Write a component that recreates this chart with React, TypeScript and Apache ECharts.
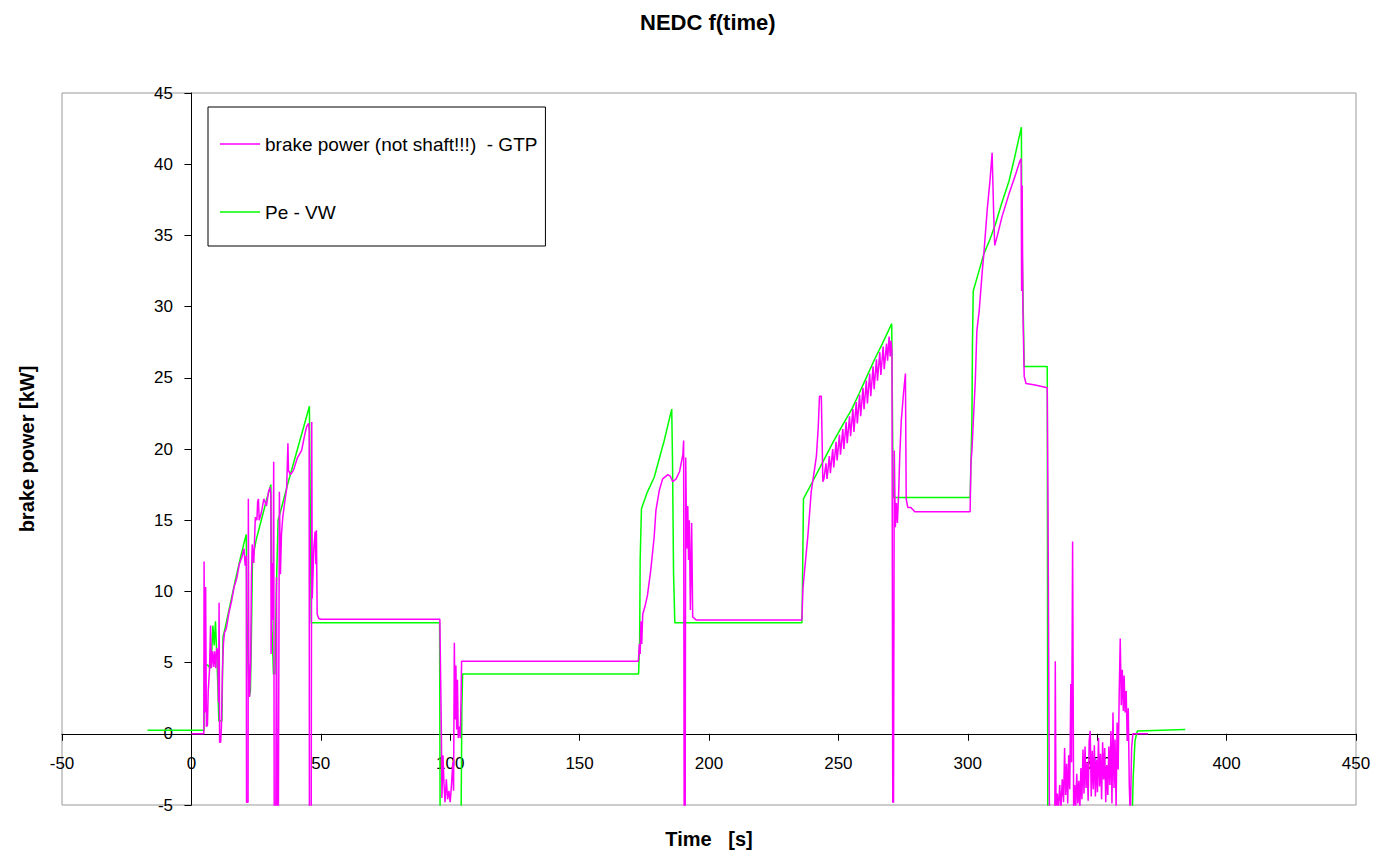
import React, { useEffect, useRef } from "react";
import * as echarts from "echarts";

const chartTitle = "NEDC f(time)";
const xAxisName = "Time   [s]";
const yAxisName = "brake power [kW]";
const seriesNames = ["brake power (not shaft!!!)  - GTP", "Pe - VW"];

const xMin = -50;
const xMax = 450;
const xStep = 50;
const yMin = -5;
const yMax = 45;
const yStep = 5;

// [time s, power kW] — brake power (GTP)
const gtpPoints: [number, number][] = [
  [0, 0], [4.8, 0], [4.9, 12.1], [5.1, 3], [5.3, 1.5], [5.5, 10.3], [5.8, 0.5], [6.2, 0.6], [6.5, 3.0],
  [7.0, 4.5], [7.4, 7.6], [7.7, 4.6], [8.2, 5.8], [8.6, 4.7], [9.0, 5.8], [9.4, 4.6], [9.8, 6.0],
  [10.2, 5.8], [10.5, 2.2], [10.7, 9.2], [10.9, -0.6], [11.3, -0.6], [11.6, 0.5], [12.0, 4.4], [12.4, 6.4],
  [12.8, 7.1], [13.5, 7.4], [14.5, 8.5], [15.5, 9.3], [16.5, 10.3], [17.5, 10.9], [18.5, 11.9], [19.5, 12.4],
  [20.3, 13.0], [20.8, 11.8], [21.2, 12.5], [21.3, -4.8], [21.9, -4.8], [22.0, 16.5], [22.2, 5], [22.5, 2.6],
  [22.9, 5.1], [23.2, 11], [23.5, 13.3], [24.1, 12], [24.7, 15.2], [25.3, 15.0], [25.6, 16.3], [25.9, 16.5],
  [26.2, 15.0], [27, 15.5], [28, 16.5], [29, 16.0], [29.8, 17.0], [30.4, 17.3], [30.7, 16.8], [30.8, 5.6],
  [31.2, 12], [31.5, 8], [31.8, 19.1], [32.0, -6], [32.6, -6], [32.9, 11], [33.2, -6], [33.6, -6],
  [34.0, 17], [34.4, 11.2], [34.8, 14], [35.3, 15.2], [36, 16.2], [36.8, 17.2], [37.3, 20.4], [37.5, 18.5],
  [38.3, 18.2], [39.4, 18.5], [41, 19.4], [42.6, 19.9], [43.9, 21.1], [44.6, 21.6], [45.3, 21.8], [45.5, 21.3],
  [45.6, -6], [46.3, -6], [46.5, 21.9], [46.7, 9.5], [47.3, 13], [47.8, 14.2], [48.1, 11.9], [48.3, 14.3],
  [48.6, 8.4], [49.2, 8.1], [50, 8.05], [96.0, 8.05], [96.3, 4], [96.6, 0], [96.8, -4.5], [97.2, -1.5],
  [97.6, -3.5], [98, -4.8], [98.5, -3.2], [99, -4.6], [99.5, -4.0], [100, -4.8], [100.5, -3.6], [101, -2.0],
  [101.3, -4.0], [101.6, 6.4], [101.9, 1.0], [102.2, 4.8], [102.5, 0.3], [102.8, 3.8], [103.1, -0.3],
  [103.5, 0.5], [103.9, -0.3], [104.2, 2.5], [104.4, 5.1], [172.7, 5.1], [173.1, 6.3], [173.4, 5.6],
  [173.7, 7.9], [174, 6.3], [174.4, 8.4], [175.2, 8.9], [176.2, 9.7], [177.5, 11.5], [178.8, 13.8],
  [179.5, 15.7], [180.8, 17.1], [182.1, 17.9], [184.1, 18.2], [185, 18.1], [186, 17.7], [187.3, 17.9],
  [188.6, 18.4], [189.9, 19.6], [190.2, 20.6], [190.4, -6], [190.8, -6], [191, 19.4], [191.4, 13],
  [191.8, 16], [192.1, 12.2], [192.4, 15], [192.8, 8.7], [193.3, 14.8], [193.7, 8.2], [195, 8.0],
  [235.9, 8.0], [236.3, 10.2], [236.9, 11.4], [238.2, 13.9], [239.5, 17], [240.8, 18.6], [241.5, 19.5],
  [242.2, 21.5], [242.7, 23.7], [243.4, 23.7], [244, 17.7], [244.4, 17.9], [245.2, 19.0], [245.6, 17.9],
  [246.5, 19.5], [246.9, 18.3], [247.8, 20.0], [248.2, 18.7], [249.1, 20.5], [249.5, 19.2], [250.4, 21.0],
  [250.8, 19.6], [251.7, 21.4], [252.1, 20.0], [253, 21.9], [253.4, 20.4], [254.3, 22.3], [254.7, 20.9],
  [255.6, 22.8], [256, 21.2], [256.9, 23.3], [257.3, 21.8], [258.2, 23.8], [258.6, 22.3], [259.5, 24.3],
  [259.9, 22.8], [260.8, 24.8], [261.2, 23.2], [262.1, 25.3], [262.5, 23.7], [263.4, 25.8], [263.8, 24.2],
  [264.7, 26.3], [265.1, 24.8], [266, 26.8], [266.4, 25.2], [267.3, 27.2], [267.7, 25.6], [268.6, 27.4],
  [269, 26.2], [269.6, 27.9], [270, 26.5], [270.3, 27.6], [270.7, 26.8], [271, -4.8], [271.3, -4.8],
  [271.6, 19.9], [272, 14.5], [272.4, 16.2], [272.8, 14.8], [273.3, 17], [273.7, 19.5], [274.3, 22],
  [275.2, 24], [275.9, 25.3], [276.2, 16.5], [276.8, 15.9], [278, 15.9], [279.5, 15.6], [300.9, 15.6],
  [301.2, 19], [301.6, 19.9], [302.2, 22.2], [302.9, 24.8], [303.5, 28.3], [304.4, 29.7], [305.6, 32.5],
  [306.2, 33.7], [307.5, 36.8], [308.6, 38.9], [309.4, 40.8], [310, 36.5], [310.4, 34.3], [311.3, 34.9],
  [313.2, 36.3], [315.9, 37.9], [318.5, 39.3], [320.1, 40.2], [320.6, 40.4], [320.8, 31.1], [321, 38.5],
  [321.3, 29.7], [321.8, 25.1], [322.5, 24.6], [326, 24.5], [330.7, 24.3], [331, 16], [331.3, 3.3],
  [331.6, -8], [333.6, -8], [333.8, 5.1], [334.1, -5.5], [334.6, -4.2], [335, -5.5], [335.5, -3.6],
  [336, -5.2], [336.5, -3.2], [337, -4.8], [337.4, -1.0], [337.8, -4.3], [338.2, -2.1], [338.6, -4.9],
  [339, -1.5], [339.4, -3.9], [339.8, 3.5], [340.1, -2], [340.5, 13.5], [340.9, -5.5], [341.3, -3.6],
  [341.7, -5.2], [342.1, -2.8], [342.5, -4.9], [342.9, -3.3], [343.3, -5.3], [343.7, -2.4], [344.1, -4.6],
  [344.5, -1.1], [344.9, -4.2], [345.3, -0.9], [345.7, -3.8], [346.1, -2.0], [346.5, -4.7], [346.9, -0.5],
  [347.3, 0.2], [347.7, -4.4], [348.1, -1.2], [348.5, -3.9], [348.9, -0.8], [349.3, -4.4], [349.7, -1.8],
  [350.1, -4.1], [350.5, -0.3], [350.9, -3.7], [351.3, -1.4], [351.7, -4.6], [352.1, -0.6], [352.5, -3.2],
  [352.9, -1.0], [353.3, -4.8], [353.7, -2.2], [354.1, -4.3], [354.5, -0.9], [354.9, -3.6], [355.3, 0.2],
  [355.7, -4.9], [356.1, 1.5], [356.5, -3.8], [356.9, -0.4], [357.3, -5.2], [357.7, 0.8], [358.1, -2.5],
  [358.5, 2.8], [358.9, 6.7], [359.3, 2.0], [359.7, 4.5], [360.1, 1.6], [360.4, 4.1], [360.8, 1.5],
  [361.2, 3.0], [361.6, -0.5], [362, 1.8], [362.4, -3.6], [362.8, -6], [363.3, -1], [363.8, 0], [369.6, 0],
];

// [time s, power kW] — Pe (VW)
const vwPoints: [number, number][] = [
  [-17, 0.25], [4.9, 0.25], [5.0, 4.9], [6.5, 4.8], [7.2, 4.6], [7.8, 5.5], [8.3, 7.6], [8.8, 6.2],
  [9.3, 7.9], [9.7, 6.0], [10.2, 3.5], [10.6, 0.9], [11.8, 0.9], [12.2, 6.8], [13, 7.4], [15, 9.1],
  [17, 10.8], [19, 12.4], [20.6, 13.6], [21.2, 14], [21.5, 8], [21.9, 4.8], [22.3, 2.6], [22.8, 3],
  [23.2, 7], [23.6, 12.2], [25, 13.6], [27, 15], [29, 16.4], [30.7, 17.5], [31.1, 7.6], [31.7, 4.2],
  [32.3, 4.2], [32.8, 10], [33.5, 15], [35, 16], [37, 17.4], [39, 18.7], [41, 20], [43, 21.3], [45.6, 23],
  [46, 14.5], [46.3, 7.8], [95.9, 7.8], [96.1, -6], [104.2, -6], [104.5, 1.8], [104.8, 4.2], [172.8, 4.2],
  [173.2, 6.5], [173.4, 12.2], [173.9, 15.8], [176, 16.9], [178.8, 18.0], [182.7, 20.6], [185.6, 22.8],
  [185.9, 19.2], [186.3, 11.3], [186.8, 7.8], [235.9, 7.8], [236.1, 10.1], [236.5, 16.5], [240, 17.7],
  [244, 19.1], [248, 20.5], [252, 21.8], [255.2, 22.8], [258, 23.9], [261, 25.1], [264, 26.3], [267, 27.4],
  [270.6, 28.8], [271.0, 20], [271.2, 16.6], [300.9, 16.6], [301.6, 22], [301.8, 27.4], [302.1, 31.1],
  [304, 32.3], [306.2, 33.7], [308.5, 34.7], [310.7, 35.8], [313, 37.2], [315.9, 38.8], [318, 40.4],
  [320.7, 42.6], [320.9, 35], [321.4, 30], [321.8, 25.8], [330.7, 25.8], [330.9, -6], [363.5, -6],
  [363.9, -3.1], [364.6, -0.5], [365.5, 0.2], [384, 0.3],
];

const FONT = "'Liberation Sans', Arial, sans-serif";

export default function App() {
  const ref = useRef<HTMLDivElement>(null);

  useEffect(() => {
    if (!ref.current) return;
    const chart = echarts.init(ref.current, undefined, { renderer: "svg" });
    chart.setOption({
      animation: false,
      backgroundColor: "#ffffff",
      title: {
        text: chartTitle,
        left: 640,
        top: 11,
        padding: 0,
        textStyle: { fontFamily: FONT, fontSize: 22, fontWeight: "bold", color: "#000" },
      },
      legend: {
        data: seriesNames,
        orient: "vertical",
        left: 208,
        top: 107,
        padding: [27, 8, 24, 12],
        itemGap: 48,
        itemWidth: 40,
        itemHeight: 1.5,
        icon: "rect",
        borderColor: "#000",
        borderWidth: 1,
        backgroundColor: "#fff",
        textStyle: { fontFamily: FONT, fontSize: 19, color: "#000", lineHeight: 20 },
      },
      grid: {
        left: 62,
        top: 93,
        right: 18,
        bottom: 48,
        outerBoundsMode: "none",
        containLabel: false,
        show: true,
        borderColor: "#999",
        borderWidth: 1,
        backgroundColor: "transparent",
      },
      xAxis: {
        type: "value",
        min: xMin,
        max: xMax,
        interval: xStep,
        name: xAxisName,
        nameLocation: "middle",
        nameGap: 24,
        nameTextStyle: { fontFamily: FONT, fontSize: 20, fontWeight: "bold", color: "#000" },
        axisLine: { onZero: true, lineStyle: { color: "#000", width: 1 } },
        axisTick: { show: true, length: 7, lineStyle: { color: "#000" } },
        axisLabel: { fontFamily: FONT, fontSize: 17, color: "#000", margin: -50, showMinLabel: true, showMaxLabel: true },
        splitLine: { show: false },
      },
      yAxis: {
        type: "value",
        min: yMin,
        max: yMax,
        interval: yStep,
        name: yAxisName,
        nameLocation: "middle",
        nameGap: 25,
        nameTextStyle: { fontFamily: FONT, fontSize: 20, fontWeight: "bold", color: "#000" },
        axisLine: { onZero: true, lineStyle: { color: "#000", width: 1 } },
        axisTick: { show: true, length: 7, lineStyle: { color: "#000" } },
        axisLabel: { fontFamily: FONT, fontSize: 17, color: "#000", margin: -111, showMinLabel: true, showMaxLabel: true },
        splitLine: { show: false },
      },
      series: [
        {
          name: seriesNames[1],
          type: "line",
          data: vwPoints,
          symbol: "none",
          showSymbol: false,
          clip: true,
          lineStyle: { color: "#00ff00", width: 1.5 },
          itemStyle: { color: "#00ff00" },
          z: 2,
        },
        {
          name: seriesNames[0],
          type: "line",
          data: gtpPoints,
          symbol: "none",
          showSymbol: false,
          clip: true,
          lineStyle: { color: "#ff00ff", width: 1.5 },
          itemStyle: { color: "#ff00ff" },
          z: 3,
        },
      ],
    });
    return () => chart.dispose();
  }, []);

  return (
    <div
      ref={ref}
      style={{ position: "fixed", left: 0, top: 0, width: 1374, height: 853, background: "#fff" }}
    />
  );
}
